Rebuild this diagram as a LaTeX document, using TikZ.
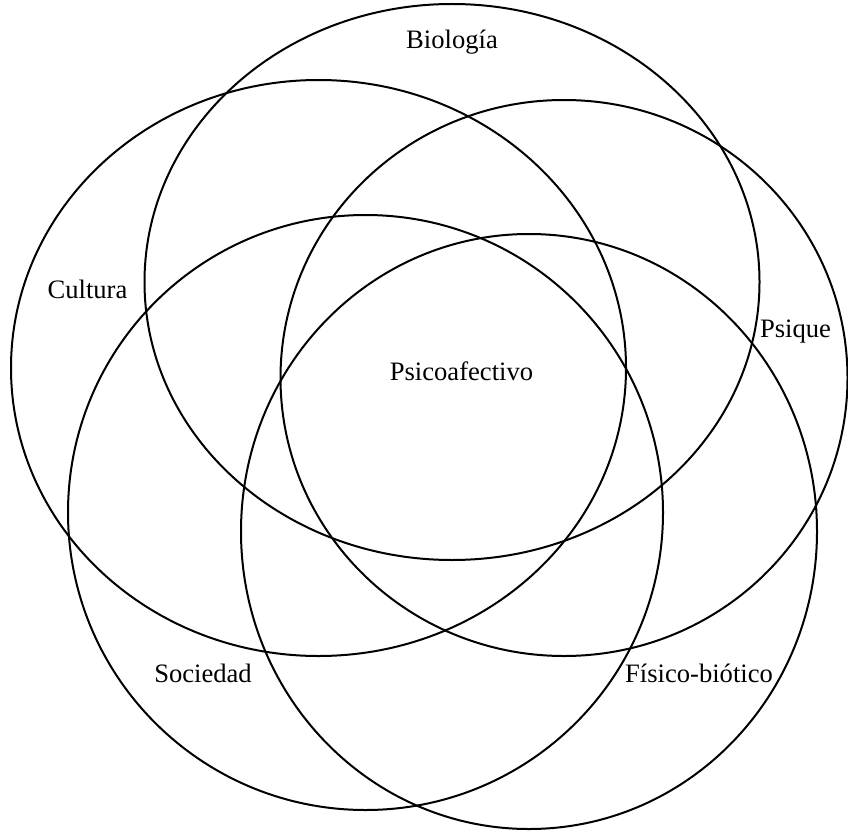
\documentclass[tikz,border=0pt]{standalone}
\usepackage{fontspec}
\setmainfont{Liberation Serif}
\begin{document}
\begin{tikzpicture}[x=1pt,y=-1pt,
  ring/.style={draw=black,line width=2pt},
  lbl/.style={inner sep=0pt,anchor=base,font=\fontsize{26.6}{30}\selectfont}]
\useasboundingbox (0,0) rectangle (848,832);
% ellipses
\draw[ring] (452,282) ellipse [x radius=307.5,y radius=278];   % Biologia
\draw[ring] (318.5,368) ellipse [x radius=307.5,y radius=288]; % Cultura
\draw[ring] (564,378) ellipse [x radius=283.5,y radius=278];   % Psique
\draw[ring] (365.5,512.5) ellipse [x radius=297.5,y radius=297.5]; % Sociedad
\draw[ring] (529,531.5) ellipse [x radius=288,y radius=297.5]; % Fisico-biotico
% labels
\node[lbl] (bio) at (452,49) {Biología};
\node[lbl] (cul) at (87.5,298) {Cultura};
\node[lbl] (psi) at (795.5,337) {Psique};
\node[lbl] (psa) at (461.5,380) {Psicoafectivo};
\node[lbl] (soc) at (203,682) {Sociedad};
\node[lbl] (fis) at (699,682) {Físico-biótico};
\end{tikzpicture}
\end{document}
